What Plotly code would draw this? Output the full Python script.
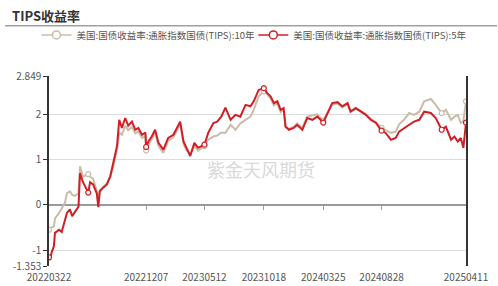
import plotly.graph_objects as go
import pandas as pd

# ---------------- data ----------------
dates = [
    "2022-03-22", "2022-03-25", "2022-03-29", "2022-04-04", "2022-04-07", "2022-04-18",
    "2022-04-25", "2022-04-29", "2022-05-04", "2022-05-09", "2022-05-17", "2022-05-23",
    "2022-05-31", "2022-06-09", "2022-06-13", "2022-06-21", "2022-07-05", "2022-07-10",
    "2022-07-18", "2022-07-28", "2022-08-01", "2022-08-05", "2022-08-14", "2022-08-24",
    "2022-09-02", "2022-09-10", "2022-09-20", "2022-09-26", "2022-10-03", "2022-10-12",
    "2022-10-20", "2022-10-30", "2022-11-08", "2022-11-16", "2022-11-26", "2022-12-05",
    "2022-12-07", "2022-12-13", "2022-12-22", "2022-12-31", "2023-01-09", "2023-01-22",
    "2023-02-04", "2023-02-18", "2023-02-28", "2023-03-08", "2023-03-17", "2023-03-24",
    "2023-04-04", "2023-04-15", "2023-04-25", "2023-05-12", "2023-05-22", "2023-06-05",
    "2023-06-15", "2023-06-26", "2023-07-07", "2023-07-21", "2023-08-03", "2023-08-16",
    "2023-08-30", "2023-09-12", "2023-09-21", "2023-10-04", "2023-10-18", "2023-10-27",
    "2023-11-05", "2023-11-14", "2023-11-23", "2023-12-02", "2023-12-10", "2023-12-15",
    "2023-12-24", "2024-01-06", "2024-01-15", "2024-01-29", "2024-02-11", "2024-02-25",
    "2024-03-09", "2024-03-25", "2024-04-05", "2024-04-18", "2024-05-02", "2024-05-15",
    "2024-05-29", "2024-06-06", "2024-06-20", "2024-07-03", "2024-07-17", "2024-07-30",
    "2024-08-13", "2024-08-28", "2024-09-08", "2024-09-22", "2024-10-05", "2024-10-14",
    "2024-10-27", "2024-11-10", "2024-11-23", "2024-12-07", "2024-12-20", "2025-01-07",
    "2025-01-20", "2025-02-05", "2025-02-16", "2025-03-02", "2025-03-11", "2025-03-20",
    "2025-03-28", "2025-04-04", "2025-04-11",
]

tips_5y = [
    -1.16, -1.22, -1.05, -0.92, -0.62, -0.55,
    -0.60, -0.48, -0.30, -0.18, -0.10, -0.25,
    -0.15, -0.04, 0.70, 0.50, 0.27, 0.50,
    0.45, 0.25, -0.05, 0.30, 0.38, 0.45,
    0.63, 0.90, 1.30, 1.88, 1.70, 1.92,
    1.75, 1.84, 1.66, 1.70, 1.55, 1.60,
    1.28, 1.40, 1.51, 1.66, 1.37, 1.22,
    1.48, 1.55, 1.70, 1.84, 1.40, 1.26,
    1.08, 1.37, 1.26, 1.33, 1.59, 1.81,
    1.84, 1.95, 2.15, 1.88, 1.99, 1.95,
    2.21, 2.18, 2.29, 2.54, 2.58, 2.47,
    2.40, 2.25, 2.29, 2.10, 2.14, 1.73,
    1.66, 1.70, 1.77, 1.66, 1.92, 1.88,
    1.95, 1.82, 2.03, 2.25, 2.27, 2.18,
    2.25, 2.06, 2.14, 2.06, 1.99, 1.88,
    1.81, 1.64, 1.59, 1.44, 1.48, 1.62,
    1.70, 1.77, 1.84, 1.88, 2.06, 2.03,
    1.92, 1.66, 1.73, 1.44, 1.51, 1.40,
    1.48, 1.26, 1.82,
]

tips_10y = [
    -0.55, -0.52, -0.50, -0.48, -0.30, -0.18,
    -0.08, -0.05, 0.05, 0.26, 0.30, 0.22,
    0.20, 0.26, 0.85, 0.62, 0.68, 0.62,
    0.58, 0.30, 0.10, 0.32, 0.40, 0.48,
    0.62, 0.85, 1.22, 1.60, 1.55, 1.75,
    1.65, 1.72, 1.58, 1.62, 1.48, 1.52,
    1.20, 1.32, 1.45, 1.60, 1.30, 1.15,
    1.42, 1.50, 1.65, 1.78, 1.35, 1.22,
    1.12, 1.30, 1.20, 1.30, 1.44, 1.51,
    1.53, 1.60, 1.59, 1.77, 1.66, 1.80,
    1.88, 1.95, 2.10, 2.40, 2.51, 2.45,
    2.35, 2.20, 2.25, 2.05, 2.10, 1.72,
    1.68, 1.72, 1.80, 1.70, 1.95, 1.98,
    2.00, 1.86, 2.02, 2.22, 2.24, 2.15,
    2.22, 2.08, 2.12, 2.08, 2.00, 1.90,
    1.83, 1.70, 1.65, 1.59, 1.62, 1.78,
    1.88, 2.03, 1.99, 2.06, 2.29, 2.34,
    2.21, 2.03, 2.10, 1.88, 1.95, 1.99,
    1.81, 1.85, 2.29,
]

marker_dates = [
    "2022-03-22", "2022-07-05", "2022-12-07", "2023-05-12", "2023-10-18",
    "2024-03-25", "2024-08-28", "2025-02-05", "2025-04-11",
]

tick_dates = ["2022-03-22", "2022-12-07", "2023-05-12", "2023-10-18",
              "2024-03-25", "2024-08-28", "2025-04-11"]
tick_labels = ["20220322", "20221207", "20230512", "20231018",
               "20240325", "20240828", "20250411"]

y_ticks = [-1.353, -1, 0, 1, 2, 2.849]
y_labels = ["-1.353", "-1", "0", "1", "2", "2.849"]

name_10y = "美国:国债收益率:通胀指数国债(TIPS):10年"
name_5y = "美国:国债收益率:通胀指数国债(TIPS):5年"
title_text = "TIPS收益率"
watermark = "紫金天风期货"

# ---------------- build ----------------
df = pd.DataFrame({"date": pd.to_datetime(dates), "y5": tips_5y, "y10": tips_10y})
mk = df[df["date"].isin(pd.to_datetime(marker_dates))]

COL10 = "#c9bda9"
COL5 = "#d21f26"
FONT = "Noto Sans CJK SC, Noto Sans, sans-serif"

fig = go.Figure()

fig.add_trace(go.Scatter(x=df["date"], y=df["y10"], mode="lines",
                         line=dict(color=COL10, width=2), showlegend=False, hoverinfo="skip"))
fig.add_trace(go.Scatter(x=mk["date"], y=mk["y10"], mode="markers",
                         marker=dict(symbol="circle", size=5, color="white",
                                     line=dict(color=COL10, width=1.2)),
                         showlegend=False, hoverinfo="skip"))
fig.add_trace(go.Scatter(x=df["date"], y=df["y5"], mode="lines",
                         line=dict(color=COL5, width=2), showlegend=False, hoverinfo="skip"))
fig.add_trace(go.Scatter(x=mk["date"], y=mk["y5"], mode="markers",
                         marker=dict(symbol="circle", size=5, color="white",
                                     line=dict(color=COL5, width=1.2)),
                         showlegend=False, hoverinfo="skip"))

# legend entries (two separate legends so they sit on one row)
fig.add_trace(go.Scatter(x=[None], y=[None], mode="lines+markers", name=name_10y,
                         legend="legend",
                         line=dict(color=COL10, width=1.5),
                         marker=dict(symbol="circle", size=8, color="white",
                                     line=dict(color=COL10, width=1.5))))
fig.add_trace(go.Scatter(x=[None], y=[None], mode="lines+markers", name=name_5y,
                         legend="legend2",
                         line=dict(color=COL5, width=1.5),
                         marker=dict(symbol="circle", size=8, color="white",
                                     line=dict(color=COL5, width=1.5))))

# helper trace for the zero-positioned x axis (ticks at y=0)
fig.add_trace(go.Scatter(x=[df["date"].iloc[0]], y=[None], xaxis="x2", yaxis="y",
                         mode="lines", showlegend=False, hoverinfo="skip"))

ymin, ymax = y_ticks[0], y_ticks[-1]
zero_pos = (0 - ymin) / (ymax - ymin)

legend_common = dict(orientation="h", yanchor="middle", y=1.216, xanchor="left",
                     font=dict(size=9.5, color="#555", family=FONT),
                     bgcolor="rgba(0,0,0,0)", borderwidth=0)

fig.update_layout(
    width=498, height=286,
    margin=dict(l=49, r=32, t=76, b=20, autoexpand=False),
    paper_bgcolor="white", plot_bgcolor="white",
    font=dict(family=FONT, color="#555", size=10),
    showlegend=True,
    legend=dict(legend_common, x=-0.030),
    legend2=dict(legend_common, x=0.490),
    xaxis=dict(type="date", range=[df["date"].iloc[0], df["date"].iloc[-1]],
               tickvals=pd.to_datetime(tick_dates), ticktext=tick_labels,
               showgrid=False, showline=False, zeroline=False, ticks="",
               tickfont=dict(size=10, color="#555"), ticklabelstandoff=4,
               automargin=False),
    xaxis2=dict(type="date", overlaying="x", matches="x", anchor="free", position=zero_pos,
                side="bottom", showline=True, linecolor="#9a9a9a", linewidth=2,
                ticks="outside", ticklen=4, tickcolor="#9a9a9a", tickwidth=1,
                tickvals=pd.to_datetime(tick_dates[1:-1]), showticklabels=False,
                showgrid=False, zeroline=False, layer="below traces", automargin=False),
    yaxis=dict(range=[ymin, ymax], tickvals=y_ticks, ticktext=y_labels,
               showgrid=True, gridcolor="#dcdcdc", gridwidth=1,
               showline=True, mirror=True, linecolor="#333", linewidth=1.5,
               ticks="outside", ticklen=4, tickcolor="#333",
               tickfont=dict(size=10, color="#555"), zeroline=False, automargin=False),
    annotations=[
        dict(text="<b>" + title_text + "</b>", xref="paper", yref="paper",
             x=-0.0935, y=1.321, xanchor="left", yanchor="middle", showarrow=False,
             font=dict(size=13, color="#333", family=FONT)),
        dict(text=watermark, xref="paper", yref="paper", x=0.508, y=0.51,
             xanchor="center", yanchor="middle", showarrow=False,
             font=dict(size=18, color="#d9d9d9", family=FONT)),
    ],
    shapes=[
        dict(type="line", xref="paper", yref="paper", x0=-0.1055, x1=1.0743,
             y0=1.2647, y1=1.2647, line=dict(color="#a0a0a0", width=1.5)),
    ],
)

fig.write_html("out.html")
